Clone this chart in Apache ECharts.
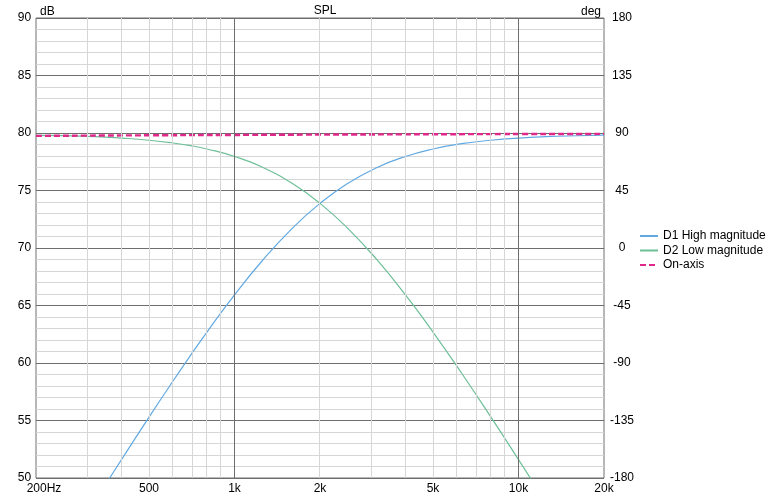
<!DOCTYPE html>
<html>
<head>
<meta charset="utf-8">
<script src="https://cdn.jsdelivr.net/npm/echarts@6/dist/echarts.min.js"></script>
<style>html,body{margin:0;padding:0;background:#fff;}#c{width:781px;height:495px;}</style>
</head>
<body>
<div id="c"></div>
<script>
// Frequencies (Hz) at which curves were read
var freqs = [200, 250, 300, 350, 400, 500, 600, 700, 800, 1000, 1250, 1600, 2000, 2500, 3150, 4000, 5000, 6300, 8000, 10000, 12500, 16000, 20000];
// D1 High magnitude (dB)
var d1High = [39.8, 43.6, 46.75, 49.36, 51.6, 55.29, 58.24, 60.66, 62.69, 65.92, 68.87, 71.73, 73.88, 75.6, 76.96, 77.96, 78.61, 79.07, 79.37, 79.56, 79.68, 79.76, 79.81];
// D2 Low magnitude (dB)
var d2Low = [79.8, 79.77, 79.71, 79.64, 79.56, 79.37, 79.15, 78.9, 78.61, 77.96, 77.04, 75.6, 73.88, 71.73, 69.07, 65.92, 62.69, 59.13, 55.29, 51.6, 47.85, 43.64, 39.8];
// On-axis (dB)
var onAxisFreqs = [200, 500, 1000, 2000, 5000, 10000, 20000];
var onAxis = [79.75, 79.8, 79.83, 79.86, 79.89, 79.91, 79.92];
// Axis tick labels
var xTickFreqs = [200, 500, 1000, 2000, 5000, 10000, 20000];
var xTickLabels = ['200Hz', '500', '1k', '2k', '5k', '10k', '20k'];
var xMajorGrid = [1000, 10000];
var xMinorGrid = [300, 400, 500, 600, 700, 800, 900, 2000, 3000, 4000, 5000, 6000, 7000, 8000, 9000];

var L = Math.log10;
function pairs(fs, vs) { return fs.map(function (f, i) { return [L(f), vs[i]]; }); }
var FONT = '"Liberation Sans", Arial, sans-serif';

var chart = echarts.init(document.getElementById('c'), null, { renderer: 'canvas' });
chart.setOption({
  animation: false,
  backgroundColor: '#ffffff',
  textStyle: { fontFamily: FONT, fontSize: 12, color: '#000' },
  title: {
    text: 'SPL', left: 320, textAlign: 'center', top: 0,
    textStyle: { fontFamily: FONT, fontSize: 12, fontWeight: 'normal', color: '#000' }
  },
  grid: {
    left: 36, right: 177, top: 18, bottom: 15,
    show: true, borderColor: '#6e6e6e', borderWidth: 1, backgroundColor: 'transparent'
  },
  legend: {
    orient: 'vertical', left: 634, top: 225,
    itemWidth: 18, itemHeight: 10, itemGap: 2.5,
    itemStyle: { opacity: 0 },
    textStyle: { fontFamily: FONT, fontSize: 12, color: '#000' },
    data: ['D1 High magnitude', 'D2 Low magnitude', 'On-axis']
  },
  xAxis: {
    type: 'value', min: L(200), max: L(20000),
    axisLine: { show: false }, axisTick: { show: false }, splitLine: { show: false },
    axisLabel: {
      customValues: xTickFreqs.map(L),
      margin: 5,
      fontFamily: FONT, fontSize: 12, color: '#000',
      formatter: function (v) {
        for (var i = 0; i < xTickFreqs.length; i++) {
          if (Math.abs(L(xTickFreqs[i]) - v) < 1e-6) {
            return i === 0 ? '{first|' + xTickLabels[i] + '}' : xTickLabels[i];
          }
        }
        return '';
      },
      rich: { first: { padding: [0, 0, 0, 16], fontFamily: FONT, fontSize: 12, color: '#000' } }
    }
  },
  yAxis: [{
    type: 'value', min: 50, max: 90, interval: 5, position: 'left',
    name: 'dB', nameLocation: 'end', nameGap: 0,
    nameTextStyle: { align: 'left', padding: [0, 0, 0, 4], fontFamily: FONT, fontSize: 12, color: '#000' },
    axisLine: { show: false }, axisTick: { show: false },
    axisLabel: { align: 'center', margin: 11.5, fontFamily: FONT, fontSize: 12, color: '#000' },
    splitLine: { show: true, lineStyle: { color: '#6e6e6e', width: 1 } },
    minorTick: { show: false, splitNumber: 5 },
    minorSplitLine: { show: true, lineStyle: { color: '#d6d6d6', width: 1 } }
  }, {
    type: 'value', min: -180, max: 180, interval: 45, position: 'right',
    name: 'deg', nameLocation: 'end', nameGap: 0,
    nameTextStyle: { align: 'right', padding: [0, 3, 0, 0], fontFamily: FONT, fontSize: 12, color: '#000' },
    axisLine: { show: false }, axisTick: { show: false },
    axisLabel: { align: 'center', margin: 18, fontFamily: FONT, fontSize: 12, color: '#000' },
    splitLine: { show: false }
  }],
  series: [{
    name: 'minorgrid', type: 'line', data: [], z: -1, silent: true,
    markLine: {
      silent: true, symbol: 'none', animation: false,
      label: { show: false },
      lineStyle: { color: '#d6d6d6', width: 1, type: 'solid' },
      data: xMinorGrid.map(function (f) { return { xAxis: L(f) }; })
    }
  }, {
    name: 'majorgrid', type: 'line', data: [], z: 1, silent: true,
    markLine: {
      silent: true, symbol: 'none', animation: false,
      label: { show: false },
      lineStyle: { color: '#6e6e6e', width: 1, type: 'solid' },
      data: xMajorGrid.map(function (f) { return { xAxis: L(f) }; })
    }
  }, {
    name: 'D1 High magnitude', type: 'line', smooth: true, symbol: 'none', z: 3,
    clip: true,
    lineStyle: { color: '#62a9e2', width: 1.2 }, itemStyle: { color: '#62a9e2' },
    data: pairs(freqs, d1High)
  }, {
    name: 'D2 Low magnitude', type: 'line', smooth: true, symbol: 'none', z: 3,
    clip: true,
    lineStyle: { color: '#6dbf98', width: 1.2 }, itemStyle: { color: '#6dbf98' },
    data: pairs(freqs, d2Low)
  }, {
    name: 'On-axis', type: 'line', smooth: true, symbol: 'none', z: 4,
    clip: true,
    lineStyle: { color: '#e0288a', width: 2.4, type: [6, 3] }, itemStyle: { color: '#e0288a' },
    data: pairs(onAxisFreqs, onAxis)
  }]
});
</script>
</body>
</html>
